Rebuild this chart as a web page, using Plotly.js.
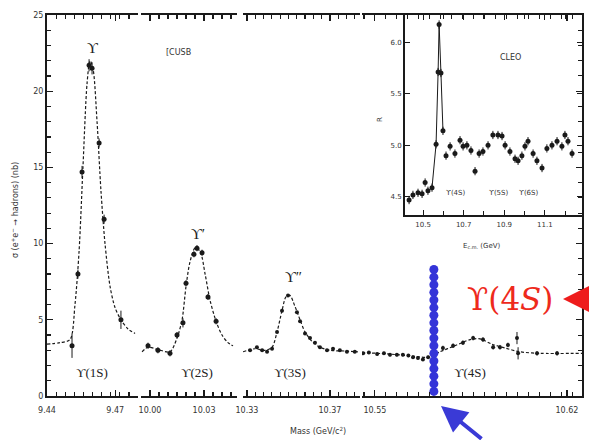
<!DOCTYPE html>
<html>
<head>
<meta charset="utf-8">
<script src="https://cdn.plot.ly/plotly-3.0.1.min.js"></script>
<style>html,body{margin:0;padding:0;background:#fff;}#chart{width:589px;height:440px;}</style>
</head>
<body>
<div id="chart"></div>
<script>
// ---- Main plot data (mass in GeV, cross section in nb) ----
const seg1X = [9.4510, 9.4536, 9.4554, 9.4585, 9.4598, 9.4629, 9.4651, 9.4725];
const seg1Y = [3.3, 8.0, 14.7, 21.7, 21.5, 16.6, 11.6, 5.0];
const seg1Err = [0.8, 0.3, 0.4, 0.4, 0.4, 0.3, 0.3, 0.6];
const seg1FitX = [9.4400, 9.4457, 9.4501, 9.4523, 9.4541, 9.4558, 9.4576, 9.4589, 9.4602, 9.4620, 9.4637, 9.4655, 9.4677, 9.4699, 9.4725, 9.4756, 9.4787];
const seg1FitY = [3.4, 3.5, 3.7, 6.0, 9.5, 15.0, 20.5, 22.0, 21.5, 18.0, 13.5, 10.0, 7.2, 5.8, 5.0, 4.4, 4.1];

const seg2X = [9.9989, 10.0044, 10.0111, 10.0150, 10.0183, 10.0200, 10.0244, 10.0261, 10.0289, 10.0322, 10.0367];
const seg2Y = [3.3, 3.0, 2.8, 4.0, 4.8, 7.4, 9.3, 9.7, 9.4, 6.5, 4.9];
const seg2Err = [0.2, 0.2, 0.2, 0.2, 0.3, 0.2, 0.2, 0.2, 0.2, 0.2, 0.2];
const seg2FitX = [9.9956, 9.9989, 10.0044, 10.0111, 10.0150, 10.0178, 10.0200, 10.0222, 10.0250, 10.0278, 10.0306, 10.0333, 10.0367, 10.0400, 10.0433, 10.0461];
const seg2FitY = [2.9, 3.2, 3.05, 2.9, 3.8, 5.0, 7.2, 8.8, 9.7, 9.5, 8.0, 6.3, 4.9, 4.0, 3.5, 3.3];

const seg3X = [10.3315, 10.3348, 10.3373, 10.3397, 10.3421, 10.3445, 10.3469, 10.3498, 10.3541, 10.3556, 10.3580, 10.3604, 10.3628, 10.3652, 10.3686, 10.3715, 10.3748, 10.3782, 10.3820];
const seg3Y = [3.0, 3.2, 3.0, 2.9, 3.1, 4.2, 5.6, 6.6, 5.5, 4.9, 4.1, 3.8, 3.5, 3.2, 3.0, 3.1, 3.0, 2.9, 2.9];
const seg3FitX = [10.3281, 10.3339, 10.3387, 10.3421, 10.3445, 10.3469, 10.3488, 10.3507, 10.3531, 10.3556, 10.3580, 10.3613, 10.3652, 10.3700, 10.3772, 10.3835];
const seg3FitY = [2.9, 3.1, 3.0, 3.2, 4.2, 5.6, 6.5, 6.6, 5.9, 5.0, 4.2, 3.6, 3.2, 3.0, 2.95, 2.9];

const seg4X = [10.5457, 10.5478, 10.5508, 10.5533, 10.5555, 10.5580, 10.5602, 10.5622, 10.5639, 10.5657, 10.5675, 10.5694, 10.5748, 10.5785, 10.5821, 10.5858, 10.5894, 10.5931, 10.5956, 10.5985, 10.6018, 10.6022, 10.6091, 10.6164];
const seg4Y = [2.8, 2.85, 2.75, 2.8, 2.7, 2.7, 2.7, 2.65, 2.55, 2.5, 2.4, 2.55, 3.15, 3.3, 3.5, 3.8, 3.7, 3.2, 3.2, 3.35, 3.8, 2.8, 2.8, 2.8];
const seg4Err = [0.1, 0.1, 0.1, 0.1, 0.1, 0.1, 0.1, 0.1, 0.1, 0.1, 0.1, 0.1, 0.15, 0.15, 0.15, 0.15, 0.15, 0.15, 0.15, 0.15, 0.4, 0.4, 0.15, 0.15];
const seg4FitX = [10.5453, 10.5555, 10.5646, 10.5694, 10.5737, 10.5792, 10.5847, 10.5883, 10.5927, 10.5974, 10.6029, 10.6102, 10.6255];
const seg4FitY = [2.85, 2.75, 2.6, 2.55, 2.9, 3.3, 3.7, 3.75, 3.4, 3.15, 2.9, 2.8, 2.8];

// blue dotted marker column at the Upsilon(4S) position
const blueMass = 10.5715;
const blueDotsY = [0.3, 0.8, 1.3, 1.8, 2.3, 2.8, 3.3, 3.8, 4.3, 4.8, 5.3, 5.8, 6.3, 6.8, 7.3, 7.8, 8.3];

// ---- Inset (CLEO) data: E_cm in GeV, R ----
const insetE = [10.431, 10.450, 10.475, 10.495, 10.510, 10.524, 10.544, 10.564, 10.574, 10.579, 10.588, 10.598, 10.613, 10.633, 10.657, 10.682, 10.697, 10.716, 10.736, 10.756, 10.776, 10.795, 10.820, 10.844, 10.869, 10.889, 10.904, 10.928, 10.953, 10.968, 10.987, 11.002, 11.017, 11.042, 11.061, 11.086, 11.110, 11.135, 11.160, 11.184, 11.199, 11.214, 11.234];
const insetR = [4.47, 4.52, 4.54, 4.53, 4.64, 4.56, 4.59, 5.01, 5.71, 6.17, 5.70, 5.14, 4.90, 4.99, 4.92, 5.05, 4.99, 5.00, 4.95, 4.75, 4.92, 4.94, 5.00, 5.10, 5.10, 5.09, 5.00, 4.94, 4.87, 4.85, 4.90, 4.99, 5.04, 4.92, 4.85, 4.78, 4.97, 5.00, 5.04, 4.99, 5.10, 5.04, 4.92];

// ---- tick labels ----
const seg1Ticks = [9.44, 9.47], seg1Text = ["9.44", "9.47"];
const seg2Ticks = [10.00, 10.03], seg2Text = ["10.00", "10.03"];
const seg3Ticks = [10.33, 10.37], seg3Text = ["10.33", "10.37"];
const seg4Ticks = [10.55, 10.62], seg4Text = ["10.55", "10.62"];
const yTicks = [0, 5, 10, 15, 20, 25];
const insetXTicks = [10.5, 10.7, 10.9, 11.1], insetXText = ["10.5", "10.7", "10.9", "11.1"];
const insetYTicks = [4.5, 5.0, 5.5, 6.0], insetYText = ["4.5", "5.0", "5.5", "6.0"];

const ink = '#1a1a1a';
function markers(x, y, err, xa, ya, size) {
  const t = {x: x, y: y, xaxis: xa, yaxis: ya, type: 'scatter', mode: 'markers',
    marker: {color: ink, size: size || 5}, showlegend: false, hoverinfo: 'skip'};
  if (err) t.error_y = {type: 'data', array: err, visible: true, color: ink, thickness: 1, width: 0};
  return t;
}
function fit(x, y, xa, ya) {
  return {x: x, y: y, xaxis: xa, yaxis: ya, type: 'scatter', mode: 'lines',
    line: {color: ink, width: 1.2, dash: '3px,2px', shape: 'spline', smoothing: 0.8}, showlegend: false, hoverinfo: 'skip'};
}

const traces = [
  fit(seg1FitX, seg1FitY, 'x', 'y'), markers(seg1X, seg1Y, seg1Err, 'x', 'y', 5),
  fit(seg2FitX, seg2FitY, 'x2', 'y'), markers(seg2X, seg2Y, seg2Err, 'x2', 'y', 5),
  fit(seg3FitX, seg3FitY, 'x3', 'y'), markers(seg3X, seg3Y, null, 'x3', 'y', 4),
  fit(seg4FitX, seg4FitY, 'x4', 'y4'), markers(seg4X, seg4Y, seg4Err, 'x4', 'y4', 4),
  {x: blueDotsY.map(() => blueMass), y: blueDotsY, xaxis: 'x4', yaxis: 'y4', type: 'scatter', mode: 'markers',
    marker: {color: '#3434d8', size: 9}, showlegend: false, hoverinfo: 'skip'},
  {x: insetE.slice(6, 12), y: insetR.slice(6, 12), xaxis: 'x5', yaxis: 'y5', type: 'scatter', mode: 'lines',
    line: {color: ink, width: 1}, showlegend: false, hoverinfo: 'skip'},
  {x: insetE, y: insetR, xaxis: 'x5', yaxis: 'y5', type: 'scatter', mode: 'markers',
    marker: {color: ink, size: 5}, error_y: {type: 'constant', value: 0.04, color: ink, thickness: 1, width: 0},
    showlegend: false, hoverinfo: 'skip'}
];

const tickFont = {family: 'DejaVu Sans, sans-serif', size: 8, color: '#333'};
function xSeg(domain, range, tv, tt, minorDtick, minorTick0) {
  return {domain: domain, range: range, anchor: 'y', tickmode: 'array', tickvals: tv, ticktext: tt,
    ticks: 'inside', ticklen: 6, tickwidth: 1.2, tickcolor: ink, showline: true, linecolor: ink, linewidth: 1.8,
    mirror: 'ticks', showgrid: false, zeroline: false, tickfont: tickFont, ticklabelstandoff: 6,
    minor: {tickmode: 'linear', tick0: minorTick0, dtick: minorDtick, ticks: 'inside', ticklen: 4, tickcolor: ink, showgrid: false}};
}
const xa1 = xSeg([0, 0.1701], [9.440, 9.480], seg1Ticks, seg1Text, 0.004, 9.44);
const xa2 = xSeg([0.1757, 0.3551], [9.995, 10.0483], seg2Ticks, seg2Text, 0.005, 10.00);
const xa3 = xSeg([0.3664, 0.5850], [10.3281, 10.3845], seg3Ticks, seg3Text, 0.004, 10.33);
const xa4 = xSeg([0.5888, 1.0], [10.5453, 10.6255], seg4Ticks, seg4Text, 0.004, 10.55);
xa4.anchor = 'y4';

const sansAnn = {family: 'DejaVu Sans, sans-serif', size: 8, color: '#333'};
const serifAnn = {family: 'Liberation Serif, serif', size: 13, color: '#222'};
function pann(px, py, text, font, extra) {
  return Object.assign({xref: 'paper', yref: 'paper', x: (px - 47) / 535, y: (396 - py) / 381,
    text: text, showarrow: false, font: font, xanchor: 'center', yanchor: 'middle'}, extra || {});
}

const layout = {
  width: 589, height: 440,
  margin: {l: 47, r: 7, t: 15, b: 44},
  paper_bgcolor: '#fff', plot_bgcolor: 'rgba(0,0,0,0)',
  xaxis: xa1, xaxis2: xa2, xaxis3: xa3, xaxis4: xa4,
  yaxis: {domain: [0, 1], range: [0, 25], anchor: 'x', tickmode: 'array', tickvals: yTicks,
    ticks: 'inside', ticklen: 6, tickwidth: 1.2, tickcolor: ink, showline: true, linecolor: ink, linewidth: 2,
    showgrid: false, zeroline: false, tickfont: tickFont,
    minor: {tickmode: 'linear', tick0: 0, dtick: 1, ticks: 'inside', ticklen: 4, tickcolor: ink, showgrid: false}},
  yaxis4: {domain: [0, 1], range: [0, 25], anchor: 'x4', side: 'right', tickmode: 'array', tickvals: yTicks,
    showticklabels: false, ticks: 'inside', ticklen: 6, tickcolor: ink, showline: true, linecolor: ink, linewidth: 1.8,
    showgrid: false, zeroline: false,
    minor: {tickmode: 'linear', tick0: 0, dtick: 1, ticks: 'inside', ticklen: 4, tickcolor: ink, showgrid: false}},
  xaxis5: {domain: [0.6692, 1], range: [10.411, 11.283], anchor: 'y5', tickmode: 'array', tickvals: insetXTicks,
    ticktext: insetXText, ticks: 'inside', ticklen: 5, tickcolor: ink, showline: true, linecolor: ink, linewidth: 1.5,
    mirror: 'ticks', showgrid: false, zeroline: false, tickfont: {family: 'DejaVu Sans, sans-serif', size: 7, color: '#333'},
    ticklabelstandoff: 2,
    minor: {tickmode: 'linear', tick0: 10.5, dtick: 0.1, ticks: 'inside', ticklen: 4, tickcolor: ink, showgrid: false}},
  yaxis5: {domain: [0.475, 1], range: [4.325, 6.262], anchor: 'x5', tickmode: 'array', tickvals: insetYTicks,
    ticktext: insetYText, ticks: 'inside', ticklen: 5, tickcolor: ink, showline: true, linecolor: ink, linewidth: 2,
    mirror: 'ticks', showgrid: false, zeroline: false, tickfont: {family: 'DejaVu Sans, sans-serif', size: 7, color: '#333'}},
  annotations: [
    pann(15, 210, 'σ (e<sup>+</sup>e<sup>−</sup> → hadrons) (nb)', sansAnn, {textangle: -90}),
    pann(318, 431, 'Mass (GeV/c<sup>2</sup>)', sansAnn),
    pann(178, 52, '[CUSB', sansAnn),
    pann(510, 57, 'CLEO', sansAnn),
    pann(92, 48, 'ϒ', Object.assign({}, serifAnn, {size: 15})),
    pann(198, 234, 'ϒ′', Object.assign({}, serifAnn, {size: 15})),
    pann(293, 277, 'ϒ″', Object.assign({}, serifAnn, {size: 15})),
    pann(92, 372, 'ϒ(1S)', serifAnn),
    pann(197, 372, 'ϒ(2S)', serifAnn),
    pann(290, 372, 'ϒ(3S)', serifAnn),
    pann(470, 372, 'ϒ(4S)', serifAnn),
    pann(456, 193, 'ϒ(4S)', {family: 'DejaVu Sans, sans-serif', size: 7, color: '#333'}),
    pann(499, 193, 'ϒ(5S)', {family: 'DejaVu Sans, sans-serif', size: 7, color: '#333'}),
    pann(529, 193, 'ϒ(6S)', {family: 'DejaVu Sans, sans-serif', size: 7, color: '#333'}),
    pann(380, 120, 'R', {family: 'DejaVu Sans, sans-serif', size: 7, color: '#333'}, {textangle: -90}),
    pann(481, 246, 'E<sub>c.m.</sub> (GeV)', {family: 'DejaVu Sans, sans-serif', size: 7, color: '#333'}),
    pann(510, 299, 'ϒ(4<i>S</i>)', {family: 'DejaVu Serif, serif', size: 31, color: '#ee2a1c'}),
    {xref: 'paper', yref: 'paper', x: (563 - 47) / 535, y: (396 - 299) / 381, text: '', showarrow: true,
      arrowhead: 2, arrowsize: 1.4, arrowwidth: 4, arrowcolor: '#ee1c1c', ax: 40, ay: 0},
    {xref: 'paper', yref: 'paper', x: (441 - 47) / 535, y: (396 - 406) / 381, text: '', showarrow: true,
      arrowhead: 2, arrowsize: 1.3, arrowwidth: 4, arrowcolor: '#3a3ad6', ax: 42, ay: 42}
  ]
};

Plotly.newPlot('chart', traces, layout, {displayModeBar: false, staticPlot: true});
</script>
</body>
</html>
